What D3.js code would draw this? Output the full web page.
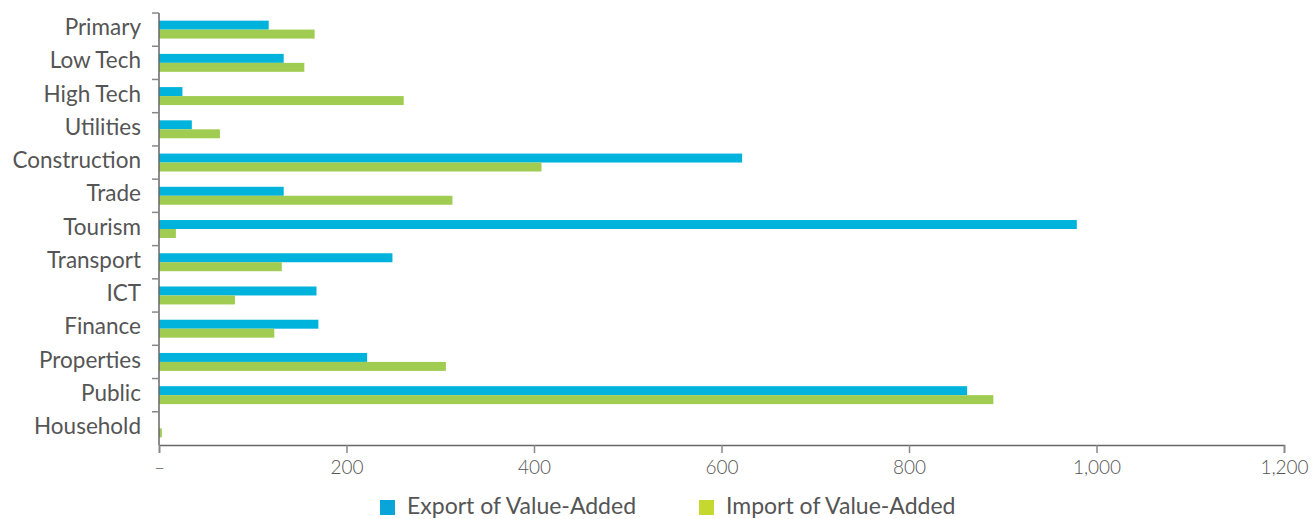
<!DOCTYPE html>
<html>
<head>
<meta charset="utf-8">
<script src="https://cdn.jsdelivr.net/npm/d3@7"></script>
<style>
  body { margin: 0; background: #fff; }
  text { font-family: Lato, "Open Sans", sans-serif; fill: #555; }
</style>
</head>
<body>
<div id="chart"></div>
<script>
// categories, top to bottom
const sectors = ["Primary", "Low Tech", "High Tech", "Utilities", "Construction", "Trade", "Tourism",
  "Transport", "ICT", "Finance", "Properties", "Public", "Household"];
const exportVA = [117, 133, 25, 35, 622, 133, 979, 249, 168, 170, 222, 862, 0];
const importVA = [166, 155, 261, 65, 408, 313, 18, 131, 81, 123, 306, 890, 3];
const xTicks = [0, 200, 400, 600, 800, 1000, 1200];
const seriesNames = ["Export of Value-Added", "Import of Value-Added"];

const width = 1315, height = 519;
const margin = { top: 13, right: 31, bottom: 74, left: 159 };

const svg = d3.select("#chart").append("svg")
  .attr("width", width)
  .attr("height", height);

const x = d3.scaleLinear()
  .domain([0, 1200])
  .range([margin.left, width - margin.right]);

const y = d3.scaleBand()
  .domain(sectors)
  .range([margin.top, height - margin.bottom]);

const barH = y.bandwidth() * 0.27;

// bars
const rows = svg.append("g").selectAll("g")
  .data(sectors)
  .join("g");

rows.append("rect")
  .attr("x", x(0))
  .attr("y", d => y(d) + y.bandwidth() / 2 - barH)
  .attr("width", (d, i) => x(exportVA[i]) - x(0))
  .attr("height", barH)
  .attr("fill", "#00b3dc");

rows.append("rect")
  .attr("x", x(0))
  .attr("y", d => y(d) + y.bandwidth() / 2)
  .attr("width", (d, i) => x(importVA[i]) - x(0))
  .attr("height", barH)
  .attr("fill", "#a0cc52");

// y axis: ticks at band boundaries
const yAxis = svg.append("g");
yAxis.append("line")
  .attr("x1", x(0)).attr("x2", x(0))
  .attr("y1", y.range()[0]).attr("y2", y.range()[1])
  .attr("stroke", "#666").attr("stroke-width", 1.5);
yAxis.selectAll(".ytick")
  .data(sectors)
  .join("line")
  .attr("x1", x(0) - 7).attr("x2", x(0))
  .attr("y1", d => y(d)).attr("y2", d => y(d))
  .attr("stroke", "#888").attr("stroke-width", 1.5);
yAxis.selectAll(".ylab")
  .data(sectors)
  .join("text")
  .attr("x", 141)
  .attr("y", d => y(d) + y.bandwidth() / 2)
  .attr("dy", "0.25em")
  .attr("text-anchor", "end")
  .attr("font-size", "22.5px")
  .text(d => d);

// x axis
const xAxis = svg.append("g")
  .attr("transform", `translate(0,${height - margin.bottom})`)
  .call(d3.axisBottom(x)
    .tickValues(xTicks)
    .tickSize(8)
    .tickFormat(d => d === 0 ? "\u2013" : d3.format(",")(d)));
xAxis.select(".domain").attr("stroke", "#666").attr("stroke-width", 1.5);
xAxis.selectAll(".tick line").attr("stroke", "#888").attr("stroke-width", 1.5);
xAxis.selectAll(".tick text")
  .attr("y", 16)
  .attr("font-size", "19px")
  .attr("font-weight", 300)
  .attr("fill", "#555");

// legend
const legend = svg.append("g");
const legendX = [380, 699];
const legendColors = ["#0aa5d8", "#c4d830"];
seriesNames.forEach((name, i) => {
  legend.append("rect")
    .attr("x", legendX[i])
    .attr("y", 500)
    .attr("width", 15)
    .attr("height", 15)
    .attr("fill", legendColors[i]);
  legend.append("text")
    .attr("x", legendX[i] + 27)
    .attr("y", 514)
    .attr("font-size", "23px")
    .text(name);
});
</script>
</body>
</html>
